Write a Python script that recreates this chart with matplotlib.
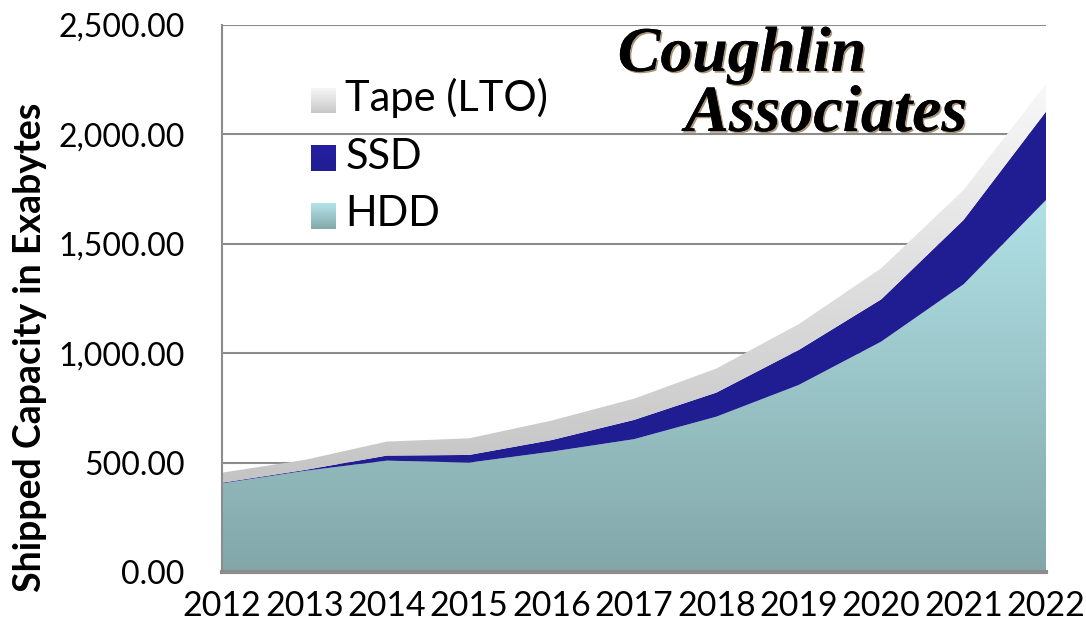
import numpy as np
import matplotlib
matplotlib.use("Agg")
import matplotlib.pyplot as plt
from matplotlib.colors import LinearSegmentedColormap, to_rgb
from matplotlib.patches import Rectangle
from matplotlib.legend_handler import HandlerBase
from matplotlib.ticker import FuncFormatter
import matplotlib.patheffects as pe

years = ["2012", "2013", "2014", "2015", "2016", "2017", "2018", "2019", "2020", "2021", "2022"]
hdd = [405, 462, 509, 500, 550, 607, 710, 855, 1053, 1315, 1700]
ssd = [3, 4, 23, 35, 53, 88, 110, 160, 193, 294, 404]
tape = [46, 46, 64, 76, 89, 97, 110, 118, 142, 137, 126]
series_names = ["Tape (LTO)", "SSD", "HDD"]
yticks = [0, 500, 1000, 1500, 2000, 2500]

SANS = ["Lato", "DejaVu Sans"]
plt.rcParams["font.family"] = SANS

fig = plt.figure(figsize=(10.86, 6.31), dpi=100)
ax = fig.add_axes([222 / 1086, 1 - 572 / 631, (1046 - 222) / 1086, (572 - 25) / 631])

x = np.arange(len(years))
hdd_a = np.array(hdd, float)
ssd_top = hdd_a + np.array(ssd, float)
tape_top = ssd_top + np.array(tape, float)

HDD_BOT, HDD_TOP = "#83a7a9", "#b0e1e6"
TAPE_BOT, TAPE_TOP = "#c4c4c4", "#f8f8f8"
SSD_C = "#201c92"


def gradient_area(lower, upper, cbot, ctop, vmin, vmax, z):
    poly = ax.fill_between(x, lower, upper, facecolor="none", edgecolor="none", zorder=z)
    cmap = LinearSegmentedColormap.from_list("g", [cbot, ctop])
    grad = np.linspace(0, 1, 256).reshape(-1, 1)
    im = ax.imshow(grad, cmap=cmap, extent=[x[0], x[-1], vmin, vmax], origin="lower",
                   aspect="auto", zorder=z, interpolation="bilinear")
    im.set_clip_path(poly.get_paths()[0], transform=ax.transData)
    return poly


gradient_area(np.zeros_like(hdd_a), hdd_a, HDD_BOT, HDD_TOP, 0, hdd_a.max(), 2)
ax.fill_between(x, hdd_a, ssd_top, facecolor=SSD_C, edgecolor="none", zorder=2)
gradient_area(ssd_top, tape_top, TAPE_BOT, TAPE_TOP, 400, tape_top.max(), 2)

ax.set_xlim(x[0], x[-1])
ax.set_ylim(0, 2500)
ax.set_yticks(yticks)
ax.yaxis.set_major_formatter(FuncFormatter(lambda v, p: f"{v:,.2f}"))
ax.set_xticks(x)
ax.set_xticklabels(years)
ax.grid(axis="y", color="#8c8c8c", linewidth=1.5, zorder=0)
ax.set_axisbelow(True)
ax.tick_params(axis="y", length=0, pad=27, labelsize=23)
ax.tick_params(axis="x", length=0, pad=13, labelsize=24.5)
for s in ["top", "right"]:
    ax.spines[s].set_visible(False)
ax.spines["left"].set_color("#8c8c8c")
ax.spines["left"].set_linewidth(1.5)
ax.spines["bottom"].set_color("#8c8c8c")
ax.spines["bottom"].set_linewidth(3)
ax.spines["bottom"].set_zorder(5)

fig.text(30 / 1086, 1 - 347 / 631, "Shipped Capacity in Exabytes", fontsize=27, fontweight="bold",
         rotation=90, ha="center", va="center")


class GradHandler(HandlerBase):
    def __init__(self, cbot, ctop, n=12):
        super().__init__()
        self.cbot, self.ctop, self.n = to_rgb(cbot), to_rgb(ctop), n

    def create_artists(self, legend, orig_handle, xd, yd, width, height, fontsize, trans):
        arts = []
        side = height
        y0 = yd
        for i in range(self.n):
            t = i / (self.n - 1)
            c = [a + (b - a) * t for a, b in zip(self.cbot, self.ctop)]
            arts.append(Rectangle((xd, y0 + side * i / self.n), side, side / self.n + 0.3,
                                  facecolor=c, edgecolor="none", transform=trans))
        return arts


h_tape = Rectangle((0, 0), 1, 1, facecolor=TAPE_BOT)
h_ssd = Rectangle((0, 0), 1, 1, facecolor=SSD_C)
h_hdd = Rectangle((0, 0), 1, 1, facecolor=HDD_BOT)
leg = ax.legend([h_tape, h_ssd, h_hdd], series_names,
                handler_map={h_tape: GradHandler("#c8c8c8", "#f4f4f4"),
                             h_ssd: GradHandler(SSD_C, "#241fa0"),
                             h_hdd: GradHandler("#86abad", "#b0e1e6")},
                loc="upper left", bbox_to_anchor=(311 / 1086, 1 - 78 / 631),
                bbox_transform=fig.transFigure, frameon=False, fontsize=30,
                handlelength=0.55, handleheight=0.55, handletextpad=0.27,
                labelspacing=0.47, borderpad=0, borderaxespad=0)
leg.set_zorder(10)

shadow = [pe.withSimplePatchShadow(offset=(1.2, -1.2), shadow_rgbFace="#a08868", alpha=0.9), pe.Normal()]
fig.text(742 / 1086, 1 - 56 / 631, "Coughlin", fontsize=46, fontweight="bold", style="italic",
         family=["Liberation Serif", "DejaVu Serif"], ha="center", va="center", color="black",
         path_effects=shadow, zorder=20)
fig.text(826 / 1086, 1 - 115 / 631, "Associates", fontsize=47.5, fontweight="bold", style="italic",
         family=["Liberation Serif", "DejaVu Serif"], ha="center", va="center", color="black",
         path_effects=shadow, zorder=20)

fig.savefig("out.png", dpi=100)
